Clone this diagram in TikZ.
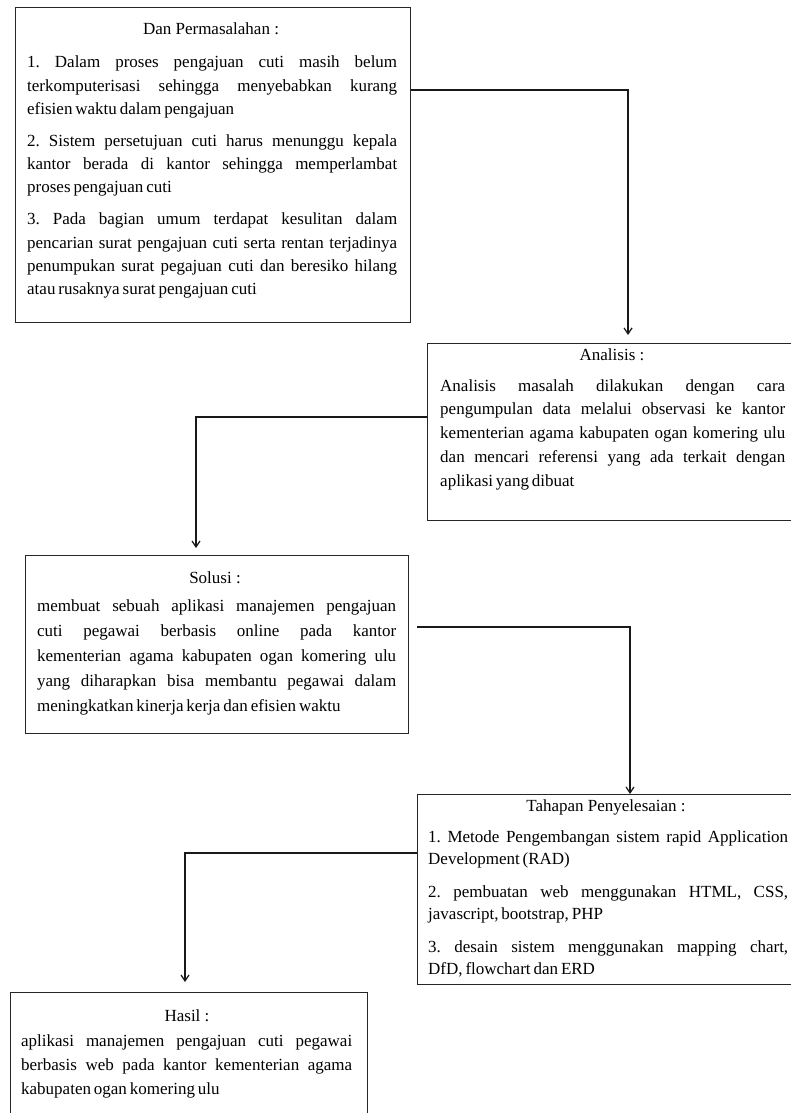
\documentclass[tikz,border=0pt]{standalone}
\usepackage{fontspec}
\setmainfont{Liberation Serif}
\usetikzlibrary{arrows.meta}
\frenchspacing
\newcommand{\tightsp}{\spaceskip=0.17em plus 1.5em minus 0.05em\relax}
\begin{document}
\begin{tikzpicture}[x=1pt,y=-1pt,
  box/.style={draw=black!85, line width=1.4pt, inner sep=0, anchor=north west},
  head/.style={inner sep=0, anchor=base, font=\fontsize{17}{20}\selectfont},
  txt/.style={inner sep=0, anchor=base west, align=justify},
  conn/.style={draw=black!90, line width=1.2pt},
  arr/.style={conn, -{Straight Barb[length=6pt,width=8pt]}}
]
\useasboundingbox[fill=white] (0,0) rectangle (791,1113);

% boxes
\node[box, minimum width=395pt, minimum height=315pt] (b1) at (15,7) {};
\node[box, minimum width=380pt, minimum height=177pt] (b2) at (427,343) {};
\node[box, minimum width=383pt, minimum height=178pt] (b3) at (25,555) {};
\node[box, minimum width=380pt, minimum height=190pt] (b4) at (417,794) {};
\node[box, minimum width=357pt, minimum height=150pt] (b5) at (10,992) {};

% headings
\node[head] (h1) at (211,35) {Dan Permasalahan :};
\node[head] (h2) at (612,360) {Analisis :};
\node[head] (h3) at (215,583) {Solusi :};
\node[head] (h4) at (606,811) {Tahapan Penyelesaian :};
\node[head] (h5) at (187,1021) {Hasil :};

% texts
\node[txt, text width=370pt, font=\fontsize{17}{23.3}\selectfont] (t1) at (27,68) {%
\tightsp\setlength{\parskip}{8.5pt}%
1. Dalam proses pengajuan cuti masih belum\linebreak
terkomputerisasi sehingga menyebabkan kurang\linebreak
efisien waktu dalam pengajuan\par
2. Sistem persetujuan cuti harus menunggu kepala\linebreak
kantor berada di kantor sehingga memperlambat\linebreak
proses pengajuan cuti\par
3. Pada bagian umum terdapat kesulitan dalam\linebreak
pencarian surat pengajuan cuti serta rentan terjadinya\linebreak
penumpukan surat pegajuan cuti dan beresiko hilang\linebreak
atau rusaknya surat pengajuan cuti};

\node[txt, text width=345pt, font=\fontsize{17}{23.8}\selectfont] (t2) at (440,391) {%
\tightsp
Analisis masalah dilakukan dengan cara\linebreak
pengumpulan data melalui observasi ke kantor\linebreak
kementerian agama kabupaten ogan komering ulu\linebreak
dan mencari referensi yang ada terkait dengan\linebreak
aplikasi yang dibuat};

\node[txt, text width=359pt, font=\fontsize{17}{25}\selectfont] (t3) at (37,611) {%
\tightsp
membuat sebuah aplikasi manajemen pengajuan\linebreak
cuti pegawai berbasis online pada kantor\linebreak
kementerian agama kabupaten ogan komering ulu\linebreak
yang diharapkan bisa membantu pegawai dalam\linebreak
meningkatkan kinerja kerja dan efisien waktu};

\node[txt, text width=360pt, font=\fontsize{17}{22}\selectfont] (t4) at (428,842) {%
\tightsp\setlength{\parskip}{11pt}%
1. Metode Pengembangan sistem rapid Application\linebreak
Development (RAD)\par
2. pembuatan web menggunakan HTML, CSS,\linebreak
javascript, bootstrap, PHP\par
3. desain sistem menggunakan mapping chart,\linebreak
DfD, flowchart dan ERD};

\node[txt, text width=331pt, font=\fontsize{17}{24}\selectfont] (t5) at (21,1046) {%
\tightsp
aplikasi manajemen pengajuan cuti pegawai\linebreak
berbasis web pada kantor kementerian agama\linebreak
kabupaten ogan komering ulu};

% connectors
\draw[arr, shorten >=8pt] (b1.east |- 0,90) -| (628,0 |- b2.north);
\draw[arr, shorten >=7pt] (b2.west |- 0,417) -| (196,0 |- b3.north);
\draw[arr, shorten <=8pt] (b3.east |- 0,627) -| (630,0 |- b4.north);
\draw[arr, shorten >=10pt] (b4.west |- 0,853) -| (185,0 |- b5.north);
\end{tikzpicture}
\end{document}
